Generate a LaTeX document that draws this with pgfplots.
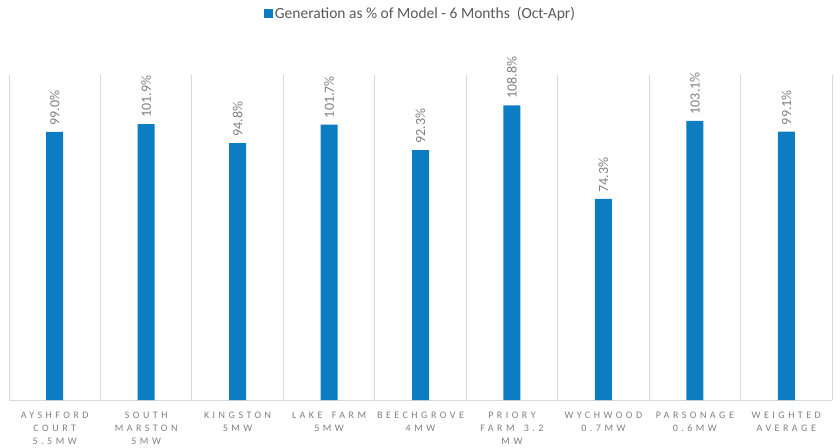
\documentclass[border=0pt]{standalone}
\usepackage{fontspec}
\setmainfont{Carlito}
\newfontfamily\lblfont[LetterSpace=35,WordSpace=1.6]{Carlito}
\usepackage{pgfplots}
\pgfplotsset{compat=1.18}
\definecolor{barblue}{HTML}{0C7DC2}
\definecolor{txtgray}{HTML}{595959}
\definecolor{lblgray}{HTML}{7F7F7F}
\definecolor{gridgray}{HTML}{D9D9D9}
\newcommand{\tl}[1]{\begin{tabular}[t]{@{}c@{}}#1\end{tabular}}
\begin{document}
\begin{tikzpicture}
\begin{axis}[
  name=ax,
  scale only axis,
  width=823pt, height=325pt,
  xmin=-0.5, xmax=8.5, ymin=0, ymax=120,
  axis y line=none,
  axis x line*=bottom,
  x axis line style={draw=gridgray, line width=1pt},
  xtick={0,...,8},
  major tick length=0pt,
  minor xtick={-0.5,0.5,...,8.5},
  minor tick length=0pt,
  xminorgrids=true,
  minor grid style={draw=gridgray, line width=1pt},
  xticklabels={{\tl{AYSHFORD\\COURT\\5.5MW}}, {\tl{SOUTH\\MARSTON\\5MW}}, {\tl{KINGSTON\\5MW}}, {\tl{LAKE FARM\\5MW}}, {\tl{BEECHGROVE\\4MW}}, {\tl{PRIORY\\FARM 3.2\\MW}}, {\tl{WYCHWOOD\\0.7MW}}, {\tl{PARSONAGE\\0.6MW}}, {\tl{WEIGHTED\\AVERAGE}}},
  xticklabel style={anchor=north, font=\lblfont\fontsize{10}{13}\selectfont, text=lblgray, yshift=-6pt},
  ybar, bar width=17pt,
  nodes near coords={\pgfmathprintnumber[fixed,fixed zerofill,precision=1,assume math mode=true]{\pgfplotspointmeta}\%},
  every node near coord/.append style={rotate=90, anchor=west, font=\fontsize{14}{16}\selectfont, text=lblgray, xshift=3pt},
  legend style={at={(0.5,1.19)}, anchor=center, draw=none, fill=none, font=\fontsize{15.5}{17}\selectfont, text=txtgray, legend cell align=left},
  legend image code/.code={\fill[barblue] (0pt,-4.5pt) rectangle (9pt,4.5pt);},
  clip=false,
]
\addplot[fill=barblue, draw=none] coordinates {(0,99.0) (1,101.9) (2,94.8) (3,101.7) (4,92.3) (5,108.8) (6,74.3) (7,103.1) (8,99.1)};
\addlegendentry{Generation as \% of Model - 6 Months\ \ (Oct-Apr)}
\end{axis}
\pgfresetboundingbox
\path[use as bounding box] ([xshift=-9pt,yshift=-47pt]ax.south west) rectangle ([xshift=8pt,yshift=75pt]ax.north east);
\end{tikzpicture}
\end{document}
